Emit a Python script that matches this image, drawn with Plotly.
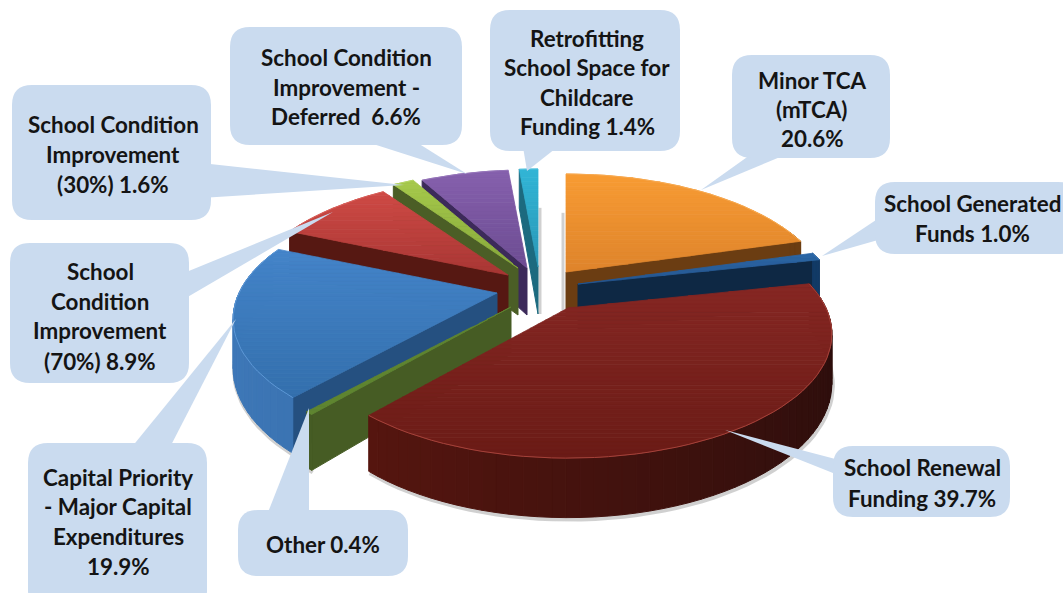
import math
import plotly.graph_objects as go

# ---- chart data (clockwise from 12 o'clock) ----
names = ["Minor TCA (mTCA)", "School Generated Funds", "School Renewal Funding", "Other",
         "Capital Priority - Major Capital Expenditures", "School Condition Improvement (70%)",
         "School Condition Improvement (30%)", "School Condition Improvement - Deferred",
         "Retrofitting School Space for Childcare Funding"]
values = [20.6, 1.0, 39.7, 0.4, 19.9, 8.9, 1.6, 6.6, 1.4]
label_lines = [
    ["Minor TCA", "(mTCA)", "20.6%"],
    ["School Generated", "Funds 1.0%"],
    ["School Renewal", "Funding 39.7%"],
    ["Other 0.4%"],
    ["Capital Priority", "- Major Capital", "Expenditures", "19.9%"],
    ["School", "Condition", "Improvement", "(70%) 8.9%"],
    ["School Condition", "Improvement", "(30%) 1.6%"],
    ["School Condition", "Improvement -", "Deferred  6.6%"],
    ["Retrofitting", "School Space for", "Childcare", "Funding 1.4%"],
]

# ---- styling / geometry ----
CX, CY = 535, 289
pull_x = [31, 43, 33, -24, -38, -27, -17, -8, 3]
pull_y = [-17, -5, 19, 18, 4, -14, -21, -21, -22]
RX, RY, K, H = 258, 118.6, 0.21, 47
top_light = ["#F89B33", "#2C66A5", "#862723", "#5F8530", "#4484C9", "#CF4A45", "#A6C94B", "#8660AD", "#31B5D6"]
top_dark = ["#DE842B", "#245690", "#6A1B16", "#5F8530", "#336FAD", "#A83634", "#87A93B", "#6C4C92", "#2A97B6"]
rim = ["#F7A94F", "#3B78B8", "#A5423A", "#5F8530", "#5C97D6", "#D9605A", "#B5D566", "#9676BA", "#55C4DF"]
radial_wall = ["#6B3D12", "#0E2844", None, "#465C24", "#255080", "#561812", "#4B5E26", "#3C2A5A", "#1C6A7F"]
wall_side = ["end", "end", None, "start", "start", "start", "start", "start", "start"]
wall_a = ["#6B3D12", "#123A66", "#2D0E0C", "#465C24", "#2B5D96", "#561812", "#4B5E26", "#3C2A5A", "#1C6A7F"]
wall_b = ["#6B3D12", "#123A66", "#5E1710", "#465C24", "#3E78B8", "#561812", "#4B5E26", "#3C2A5A", "#1C6A7F"]
BOX = "#CADBEF"

# callout box: x0, y0, x1, y1, tail base a, tail base b, tail tip
callouts = [
    (732, 55, 890, 158, (757, 150), (797, 150), (701, 190)),
    (875, 182, 1078, 254, (885, 214), (885, 238), (822, 256)),
    (833, 446, 1010, 517, (843, 461), (843, 477), (725, 430)),
    (238, 510, 408, 576, (265, 520), (309, 520), (309, 408)),
    (28, 443, 207, 610, (127, 453), (167, 453), (236, 319)),
    (10, 243, 189, 383, (179, 275), (179, 302), (333, 212)),
    (12, 85, 211, 220, (201, 163), (201, 198), (404, 185)),
    (230, 27, 462, 145, (345, 135), (405, 135), (467, 174)),
    (490, 10, 680, 151, (522, 141), (565, 141), (527, 171)),
]
text_cx = [812, 972, 922, 323, 118, 100, 113, 346, 587]
text_y = [[80, 109, 138], [203, 233], [467, 498], [544], [477, 506, 536, 566],
          [271, 301, 330, 361], [124, 154, 184], [57, 87, 116], [38, 67, 97, 126]]


def hex2rgb(c):
    return tuple(int(c[i:i + 2], 16) for i in (1, 3, 5))


def mix(a, b, t):
    t = max(0, min(1, t))
    ra, rb = hex2rgb(a), hex2rgb(b)
    return "rgb(%d,%d,%d)" % tuple(round(p + (q - p) * t) for p, q in zip(ra, rb))


def proj(ax, ay, theta):
    x, y = math.sin(theta), math.cos(theta)
    w = 1 + K * y
    return ax + RX * x / w, ay - RY * y / w, H / w


def clip(poly, ymin, ymax):
    def half(pts, keep, ylim):
        out = []
        for i, p in enumerate(pts):
            q = pts[(i + 1) % len(pts)]
            if keep(p):
                out.append(p)
            if keep(p) != keep(q):
                t = (ylim - p[1]) / (q[1] - p[1])
                out.append((p[0] + (q[0] - p[0]) * t, ylim))
        return out
    res = half(poly, lambda p: p[1] >= ymin, ymin)
    if res:
        res = half(res, lambda p: p[1] <= ymax, ymax)
    return res


fig = go.Figure()


def fill(pts, color, width=1.0):
    xs = [p[0] for p in pts] + [pts[0][0]]
    ys = [p[1] for p in pts] + [pts[0][1]]
    fig.add_trace(go.Scatter(x=xs, y=ys, mode="lines", fill="toself", fillcolor=color,
                             line=dict(color=color, width=width), hoverinfo="skip", showlegend=False))


def stroke(xs, ys, color, width):
    fig.add_trace(go.Scatter(x=xs, y=ys, mode="lines", line=dict(color=color, width=width),
                             hoverinfo="skip", showlegend=False))


total = sum(values)
starts, acc = [], 0.0
for v in values:
    starts.append(acc / total * 2 * math.pi)
    acc += v
ends = [s + v / total * 2 * math.pi for s, v in zip(starts, values)]

# soft vertical shadows behind the two slices flanking 12 o'clock
ax0, ay0 = CX + pull_x[0], CY + pull_y[0]
p0 = proj(ax0, ay0, starts[0])
stroke([p0[0] - 3, ax0 - 3], [p0[1] + p0[2], ay0 + H], "rgba(150,150,150,0.45)", 3)
ax8, ay8 = CX + pull_x[8], CY + pull_y[8]
p8 = proj(ax8, ay8, ends[8])
stroke([p8[0] + 2, ax8 + 2], [p8[1] + p8[2], ay8 + H], "rgba(150,150,150,0.45)", 3)

draw_order = [8, 7, 6, 0, 1, 5, 4, 3, 2]
for i in draw_order:
    ax, ay = CX + pull_x[i], CY + pull_y[i]
    a0, a1 = starts[i], ends[i]
    n = max(2, int(math.degrees(a1 - a0) / 2.5))
    angles = [a0 + (a1 - a0) * j / n for j in range(n + 1)]
    rimpts = [proj(ax, ay, t) for t in angles]
    # soft shadow under the front wall
    front = [p for p, t in zip(rimpts, angles) if math.cos(t) < 0.2]
    if len(front) > 2:
        stroke([p[0] + 1 for p in front], [p[1] + p[2] + 2 for p in front], "rgba(120,120,120,0.35)", 4)
    # radial wall
    if wall_side[i]:
        sx, sy, d = rimpts[0] if wall_side[i] == "start" else rimpts[-1]
        fill([(ax, ay), (sx, sy), (sx, sy + d), (ax, ay + H)], radial_wall[i])
    # outer wall
    for j in range(n):
        tm = (angles[j] + angles[j + 1]) / 2
        if math.cos(tm) < 0.35:
            p, q = rimpts[j], rimpts[j + 1]
            col = mix(wall_a[i], wall_b[i], (-math.sin(tm) + 1) / 2 if wall_a[i] != wall_b[i] else 0)
            fill([(p[0], p[1]), (q[0], q[1]), (q[0], q[1] + q[2]), (p[0], p[1] + p[2])], col)
    # top face as horizontal gradient bands
    poly = [(ax, ay)] + [(p[0], p[1]) for p in rimpts]
    ymin, ymax = min(p[1] for p in poly), max(p[1] for p in poly)
    bands = max(1, int((ymax - ymin) / 4))
    for b in range(bands):
        y0 = ymin + (ymax - ymin) * b / bands
        y1 = ymin + (ymax - ymin) * (b + 1) / bands
        piece = clip(poly, y0, y1)
        if len(piece) >= 3:
            fill(piece, mix(top_light[i], top_dark[i], (b + 0.5) / bands), 0.8)
    # light rim on the outer edge
    stroke([p[0] for p in rimpts], [p[1] for p in rimpts], rim[i], 1)


def box_path(c, r=20):
    x0, y0, x1, y1 = c[:4]
    return (f"M{x0 + r},{y0} L{x1 - r},{y0} Q{x1},{y0} {x1},{y0 + r} L{x1},{y1 - r} Q{x1},{y1} {x1 - r},{y1} "
            f"L{x0 + r},{y1} Q{x0},{y1} {x0},{y1 - r} L{x0},{y0 + r} Q{x0},{y0} {x0 + r},{y0} Z")


def tail_path(c):
    a, b, tip = c[4:]
    return f"M{a[0]},{a[1]} L{tip[0]},{tip[1]} L{b[0]},{b[1]} Z"


shapes = []
for c in callouts:
    for path in (tail_path(c), box_path(c)):
        shapes.append(dict(type="path", path=path, xref="x", yref="y", fillcolor=BOX,
                           line=dict(width=0), layer="above"))

annotations = []
for lines, cx, ys in zip(label_lines, text_cx, text_y):
    for line, y in zip(lines, ys):
        annotations.append(dict(x=cx, y=y, xref="x", yref="y", text=f"<b>{line}</b>", showarrow=False,
                                xanchor="center", yanchor="middle",
                                font=dict(family="Lato", size=22.4, color="#141414")))

fig.update_layout(
    width=1063, height=593, margin=dict(l=0, r=0, t=0, b=0),
    paper_bgcolor="white", plot_bgcolor="white", showlegend=False,
    xaxis=dict(range=[0, 1063], visible=False, fixedrange=True),
    yaxis=dict(range=[593, 0], visible=False, fixedrange=True),
    shapes=shapes, annotations=annotations,
)
fig.write_html("out.html", config=dict(displayModeBar=False),
               post_script="document.body.style.margin='0';document.documentElement.style.overflow='hidden';")
